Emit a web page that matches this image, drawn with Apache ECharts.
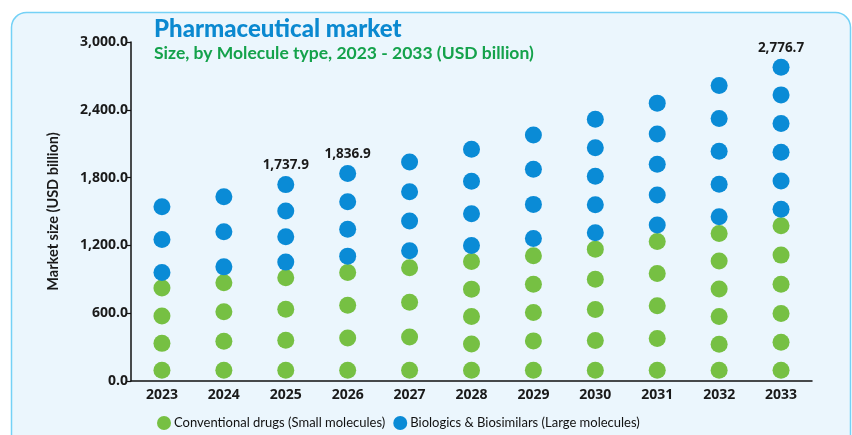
<!DOCTYPE html>
<html>
<head>
<meta charset="utf-8">
<title>Pharmaceutical market</title>
<script src="https://cdn.jsdelivr.net/npm/echarts@6/dist/echarts.min.js"></script>
<style>
  html, body { margin: 0; padding: 0; background: #ffffff; }
  #chart { width: 852px; height: 435px; }
</style>
</head>
<body>
<div id="chart"></div>
<script>
// Years on the category axis
const years = ['2023', '2024', '2025', '2026', '2027', '2028', '2029', '2030', '2031', '2032', '2033'];

// Dot positions (USD billion) for each year, small-molecule drugs
const conventionalDots = [
  [95, 333, 575, 823],
  [95, 352, 612, 869],
  [95, 361, 635, 913],
  [95, 381, 671, 961],
  [95, 390, 697, 1002],
  [95, 328, 571, 813, 1058],
  [95, 355, 606, 857, 1108],
  [95, 358, 633, 901, 1167],
  [95, 376, 665, 952, 1235],
  [95, 325, 571, 815, 1061, 1306],
  [95, 343, 597, 857, 1114, 1374]
];

// Dot positions (USD billion) for each year, large-molecule biologics;
// the top dot of a labelled year sits at the market total
const biologicsDots = [
  [961, 1253, 1542],
  [1010, 1321, 1631],
  [1052, 1276, 1504, 1737.9],
  [1105, 1342, 1587, 1836.9],
  [1152, 1415, 1675, 1938],
  [1200, 1480, 1767, 2051],
  [1262, 1563, 1874, 2178],
  [1312, 1560, 1812, 2065, 2317],
  [1380, 1646, 1918, 2186, 2459],
  [1454, 1741, 2033, 2322, 2615],
  [1519, 1770, 2024, 2278, 2532, 2776.7]
];

// Years whose market total is written above the column
const labelledYears = ['2025', '2026', '2033'];

// Value-axis ticks
const yMin = 0, yMax = 3000, yStep = 600;

const GREEN = '#76c043';
const BLUE = '#0a8bd6';
const FONT = 'Lato, "Noto Sans", sans-serif';
const FONT_AXIS = '"Open Sans", Lato, sans-serif';

const fmt = v => Number(v).toLocaleString('en-US', { minimumFractionDigits: 1, maximumFractionDigits: 1 });

function toPoints(dotLists, labelTop) {
  const pts = [];
  dotLists.forEach((list, i) => {
    list.forEach((v, j) => {
      const item = { value: [years[i], v] };
      if (labelTop && j === list.length - 1 && labelledYears.includes(years[i])) {
        item.label = {
          show: true,
          position: 'top',
          distance: 4,
          formatter: p => fmt(p.value[1]),
          fontFamily: FONT_AXIS,
          fontSize: 13.5,
          fontWeight: 'bold',
          color: '#1a1a1a'
        };
      }
      pts.push(item);
    });
  });
  return pts;
}

const chart = echarts.init(document.getElementById('chart'), null, { renderer: 'canvas' });

chart.setOption({
  backgroundColor: 'transparent',
  animation: false,
  graphic: [{
    type: 'rect',
    z: -10,
    silent: true,
    shape: { x: 11.5, y: 12.5, width: 839, height: 440, r: 15 },
    style: { fill: '#ebf6fd', stroke: '#74d1f6', lineWidth: 1.5 }
  }],
  title: {
    text: 'Pharmaceutical market',
    subtext: 'Size, by Molecule type, 2023 - 2033 (USD billion)',
    left: 154,
    top: 17,
    itemGap: 3,
    padding: [0, 0, 0, 0],
    textStyle: { fontFamily: FONT, fontSize: 24, fontWeight: 900, color: '#0b89d0' },
    subtextStyle: { fontFamily: FONT, fontSize: 17.5, fontWeight: 'bold', color: '#14a24b' }
  },
  legend: {
    left: 152,
    top: 411,
    icon: 'circle',
    itemWidth: 14,
    itemHeight: 14,
    itemGap: 8,
    textStyle: { fontFamily: FONT, fontSize: 13, color: '#111', padding: [0, 0, 0, -2] },
    data: ['Conventional drugs (Small molecules)', 'Biologics & Biosimilars (Large molecules)']
  },
  grid: { left: 131, right: 40, top: 42, bottom: 54 },
  xAxis: {
    type: 'category',
    data: years,
    axisLine: { lineStyle: { color: '#111', width: 1.5 } },
    axisTick: { show: false },
    axisLabel: { fontFamily: FONT_AXIS, fontSize: 14, fontWeight: 'bold', color: '#1a1a1a', margin: 7 },
    splitLine: { show: false }
  },
  yAxis: {
    type: 'value',
    min: yMin,
    max: yMax,
    interval: yStep,
    name: 'Market size (USD billion)',
    nameLocation: 'middle',
    nameRotate: 90,
    nameGap: 70,
    nameTextStyle: { fontFamily: FONT, fontSize: 14.5, fontWeight: 'bold', color: '#1a1a1a' },
    axisLine: { show: true, lineStyle: { color: '#111', width: 1.5 } },
    axisTick: { show: true, length: 5, lineStyle: { color: '#111', width: 1.2 } },
    axisLabel: { fontFamily: FONT_AXIS, fontSize: 14, fontWeight: 'bold', color: '#1a1a1a', margin: 3, formatter: v => fmt(v) },
    splitLine: { show: false }
  },
  series: [
    {
      name: 'Conventional drugs (Small molecules)',
      type: 'scatter',
      symbol: 'circle',
      symbolSize: 17,
      itemStyle: { color: GREEN, opacity: 1 },
      data: toPoints(conventionalDots, false)
    },
    {
      name: 'Biologics & Biosimilars (Large molecules)',
      type: 'scatter',
      symbol: 'circle',
      symbolSize: 17,
      itemStyle: { color: BLUE, opacity: 1 },
      data: toPoints(biologicsDots, true)
    }
  ]
});
</script>
</body>
</html>
